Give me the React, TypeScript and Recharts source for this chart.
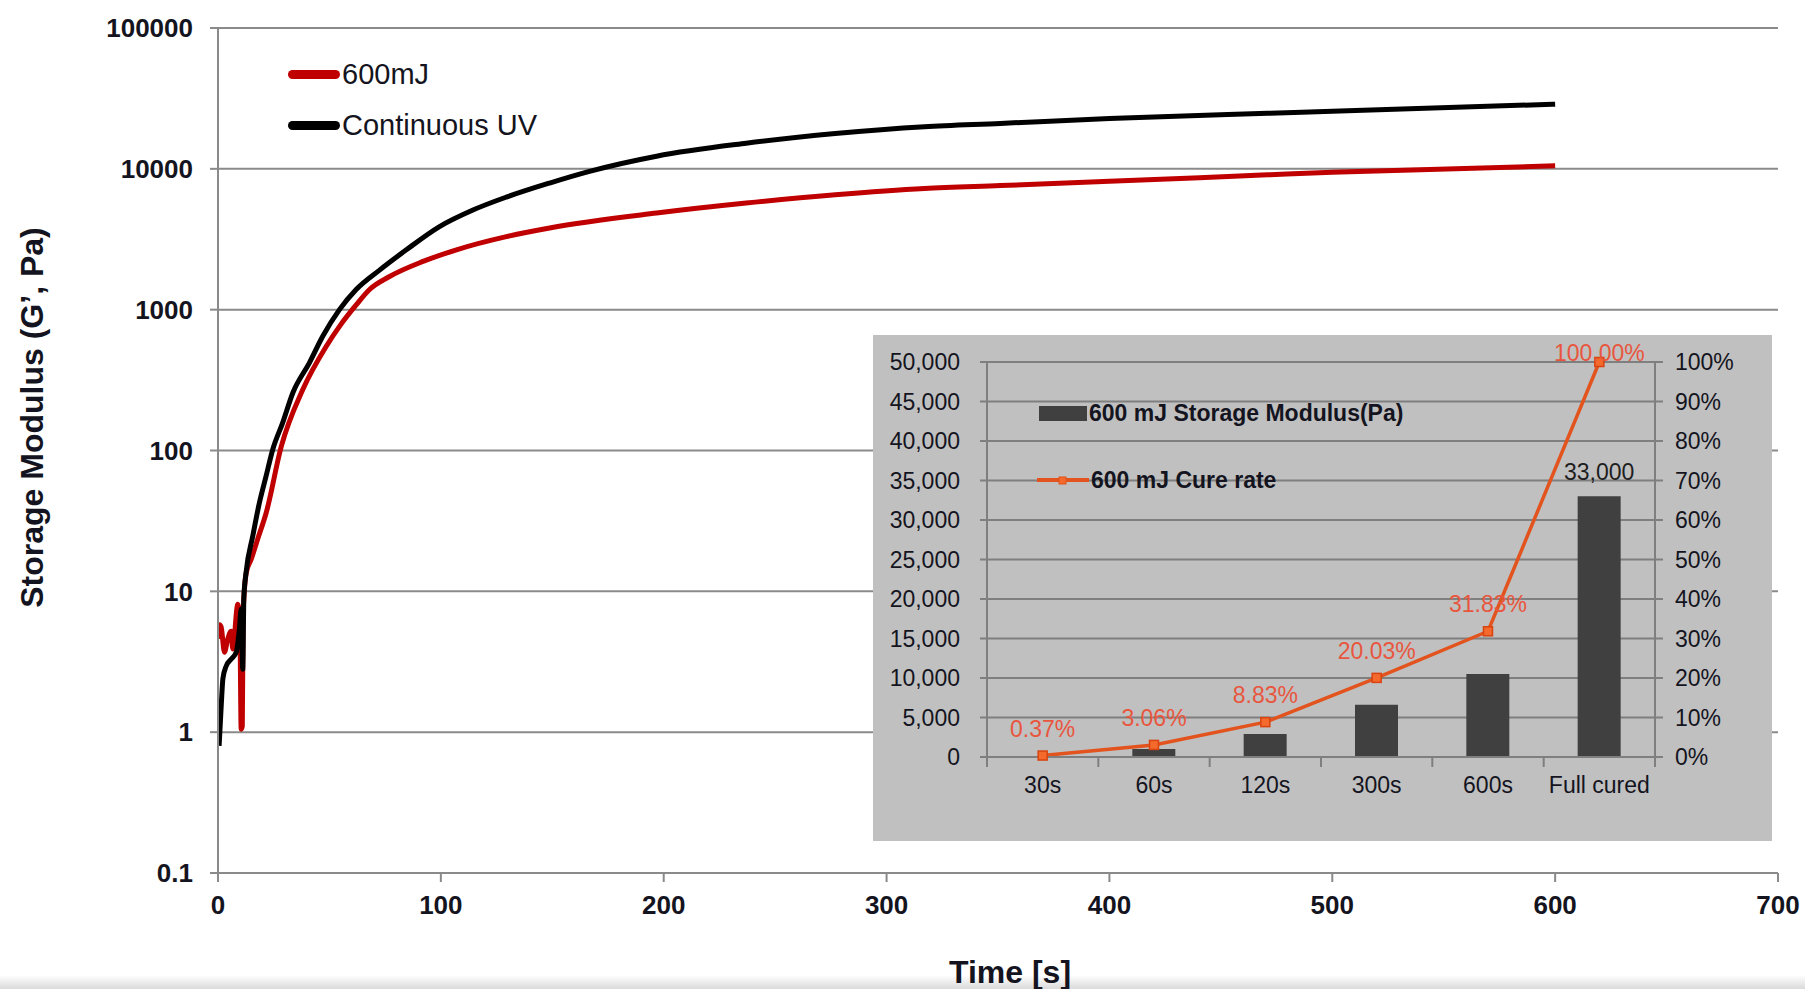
import React from "react";
import {
  LineChart,
  Line,
  XAxis,
  YAxis,
  CartesianGrid,
  Legend,
  Label,
  ComposedChart,
  Bar,
  LabelList,
} from "recharts";

// ---- main chart: G' vs time, log scale ----
const timeTicks = [0, 100, 200, 300, 400, 500, 600, 700];
const logTicks = [0.1, 1, 10, 100, 1000, 10000, 100000];

const uvTime = [
  0.5, 1.5, 2.2, 3.7, 5.9, 8.2, 9.6, 10.4, 11.1, 11.6, 12.6, 15.6, 18.6, 21.6,
  24.6, 29, 33.6, 41, 47, 54.5, 62, 72.5, 84.5, 99.4, 114.4, 129.4, 148.8,
  166.7, 196.8, 237, 277, 317, 351, 400, 471, 500, 600,
];
const uvModulus = [
  0.8, 1.6, 2.4, 2.95, 3.3, 3.7, 5.4, 7.5, 2.8, 9, 13.6, 24.7, 42.7, 66, 102,
  157, 257, 419, 647, 1000, 1390, 1910, 2660, 3890, 5100, 6300, 7930, 9600,
  12300, 15200, 17800, 19900, 21000, 22800, 24800, 25600, 28800,
];

const mjTime = [
  0, 0.7, 1.4, 2.9, 4.4, 5.9, 6.6, 8.9, 9.8, 10.4, 10.9, 11.3, 12.7, 14.9, 18,
  21.6, 28.4, 38, 48.6, 55, 62, 68, 77, 92, 107, 129.4, 148.8, 196.8, 237,
  277, 317, 351, 400, 471, 500, 600,
];
const mjModulus = [
  4.6, 5.8, 5.6, 3.7, 4.6, 5.2, 3.9, 8.1, 6, 1.05, 1.1, 7.1, 13.6, 16.9, 24,
  36, 107, 270, 550, 780, 1080, 1390, 1720, 2200, 2660, 3300, 3800, 4850, 5710,
  6540, 7250, 7600, 8150, 9060, 9450, 10500,
];

// ---- inset: 600 mJ modulus + cure rate ----
const stages = ["30s", "60s", "120s", "300s", "600s", "Full cured"];
const stageModulus = [122, 1010, 2914, 6610, 10504, 33000];
const cureRate = [0.37, 3.06, 8.83, 20.03, 31.83, 100];
const modulusTicks = [0, 5000, 10000, 15000, 20000, 25000, 30000, 35000, 40000, 45000, 50000];
const percentTicks = [0, 10, 20, 30, 40, 50, 60, 70, 80, 90, 100];

const uvData = uvTime.map((t, i) => ({ t, g: uvModulus[i] }));
const mjData = mjTime.map((t, i) => ({ t, g: mjModulus[i] }));
const insetData = stages.map((s, i) => ({
  pos: i + 0.5,
  stage: s,
  modulus: stageModulus[i],
  cure: cureRate[i],
}));
// boundaries (tick marks) and centres (labels) on the category axis
const stageTicks = stages.flatMap((_, i) => [i, i + 0.5]).concat(stages.length);

const FONT = '"Liberation Sans", Arial, sans-serif';
const GRID = "#8a8a8a";
const INSET_GRID = "#7f7f7f";
const TEXT = "#141420";
const LINE_ORANGE = "#e2531d";
const LABEL_RED = "#e8563e";

const MainLegend = ({ payload }: any) => (
  <div style={{ fontSize: 29, color: TEXT, fontFamily: FONT }}>
    {(payload || []).map((p: any, i: number) => (
      <div
        key={i}
        style={{ display: "flex", alignItems: "center", height: 34, marginBottom: 17 }}
      >
        <span
          style={{
            display: "inline-block",
            width: 52,
            height: 9,
            borderRadius: 5,
            background: p.color,
          }}
        />
        <span style={{ marginLeft: 2 }}>{p.value}</span>
      </div>
    ))}
  </div>
);

// bar entry first, then the line, as in the original
const InsetLegend = ({ payload }: any) => {
  const items = [...(payload || [])].sort(
    (a: any, b: any) => (a.type === "rect" ? 0 : 1) - (b.type === "rect" ? 0 : 1)
  );
  return (
    <div style={{ fontSize: 23, fontWeight: 700, color: TEXT, fontFamily: FONT }}>
      {items.map((p: any, i: number) => (
        <div
          key={i}
          style={{ display: "flex", alignItems: "center", height: 30, marginBottom: 37 }}
        >
          {p.type === "rect" ? (
            <span
              style={{ display: "inline-block", width: 48, height: 15, marginLeft: 2, background: p.color }}
            />
          ) : (
            <svg width={52} height={12}>
              <line x1={0} x2={52} y1={6} y2={6} stroke={p.color} strokeWidth={4} />
              <rect x={22} y={3} width={7} height={7} fill="#f36a2c" stroke={p.color} strokeWidth={1} />
            </svg>
          )}
          <span style={{ marginLeft: 2 }}>{p.value}</span>
        </div>
      ))}
    </div>
  );
};

const StageTick = (props: any) => {
  const { x, y, payload } = props;
  const v = payload.value;
  if (Number.isInteger(v)) {
    return <line x1={x} x2={x} y1={y - 10} y2={y} stroke={INSET_GRID} strokeWidth={2} />;
  }
  return (
    <text
      x={x}
      y={y + 10}
      dy="0.71em"
      textAnchor="middle"
      fontSize={23}
      fill={TEXT}
      fontFamily={FONT}
    >
      {stages[Math.floor(v)]}
    </text>
  );
};

const SquareDot = (props: any) => {
  const { cx, cy } = props;
  if (cx == null || cy == null) return null;
  return <rect x={cx - 4.5} y={cy - 4.5} width={9} height={9} fill="#f36a2c" stroke="#d9430f" strokeWidth={1.5} />;
};

const CureLabel = (props: any) => {
  const { x, y, value, index } = props;
  const dy = index === cureRate.length - 1 ? 9 : 27;
  return (
    <text
      x={x}
      y={y - dy}
      textAnchor="middle"
      dominantBaseline="central"
      fontSize={23}
      fill={LABEL_RED}
      fontFamily={FONT}
    >
      {Number(value).toFixed(2)}%
    </text>
  );
};

const BarTopLabel = (props: any) => {
  const { x, y, width, value, index } = props;
  if (index !== stages.length - 1) return null;
  return (
    <text
      x={x + width / 2}
      y={y - 24}
      textAnchor="middle"
      dominantBaseline="central"
      fontSize={23}
      fill="#1e1e1e"
      fontFamily={FONT}
    >
      {Number(value).toLocaleString("en-US")}
    </text>
  );
};

const YTitle = ({ viewBox }: any) => {
  const cx = viewBox.x + 14;
  const cy = viewBox.y + viewBox.height / 2 - 33;
  return (
    <text
      x={cx}
      y={cy}
      transform={`rotate(-90 ${cx} ${cy})`}
      textAnchor="middle"
      dominantBaseline="central"
      fontSize={32}
      fontWeight={700}
      fill={TEXT}
      fontFamily={FONT}
    >
      Storage Modulus (G’, Pa)
    </text>
  );
};

const XTitle = ({ viewBox }: any) => (
  <text
    x={viewBox.x + viewBox.width / 2 + 12}
    y={viewBox.y + viewBox.height - 6}
    textAnchor="middle"
    fontSize={32}
    fontWeight={700}
    fill={TEXT}
    fontFamily={FONT}
  >
    Time [s]
  </text>
);

export default function App() {
  return (
    <div
      style={{
        position: "absolute",
        left: 0,
        top: 0,
        width: 1805,
        height: 989,
        background: "#fff",
        fontFamily: FONT,
        overflow: "hidden",
      }}
    >
      <div
        style={{
          position: "absolute",
          left: 0,
          top: 975,
          width: 1805,
          height: 14,
          background: "linear-gradient(to bottom, rgba(255,255,255,0), #dadada)",
        }}
      />
      <div style={{ position: "absolute", left: 0, top: 0 }}>
        <LineChart width={1805} height={989} margin={{ top: 28, right: 27, bottom: 0, left: 18 }}>
          <CartesianGrid vertical={false} stroke={GRID} strokeWidth={2} />
          <XAxis
            dataKey="t"
            type="number"
            domain={[0, 700]}
            ticks={timeTicks}
            interval={0}
            height={116}
            allowDataOverflow
            tickSize={9}
            tickMargin={14}
            stroke={GRID}
            strokeWidth={2}
            tick={{ fontSize: 26, fontWeight: 700, fill: TEXT }}
          >
            <Label content={<XTitle />} />
          </XAxis>
          <YAxis
            dataKey="g"
            type="number"
            scale="log"
            domain={[0.1, 100000]}
            ticks={logTicks}
            interval={0}
            allowDataOverflow
            width={200}
            tickSize={8}
            tickMargin={17}
            stroke={GRID}
            strokeWidth={2}
            tick={{ fontSize: 26, fontWeight: 700, fill: TEXT }}
          >
            <Label content={<YTitle />} />
          </YAxis>
          <Legend
            layout="vertical"
            align="center"
            verticalAlign="middle"
            wrapperStyle={{ left: 288, top: 57, width: 300 }}
            content={<MainLegend />}
          />
          <Line
            data={mjData}
            dataKey="g"
            name="600mJ"
            type="monotone"
            stroke="#c00000"
            strokeWidth={5}
            dot={false}
            isAnimationActive={false}
          />
          <Line
            data={uvData}
            dataKey="g"
            name="Continuous UV"
            type="monotone"
            stroke="#000000"
            strokeWidth={5}
            dot={false}
            isAnimationActive={false}
          />
        </LineChart>
      </div>

      <div
        style={{
          position: "absolute",
          left: 873,
          top: 335,
          width: 899,
          height: 506,
          background: "#c0c0c0",
        }}
      >
        <ComposedChart
          width={899}
          height={506}
          data={insetData}
          margin={{ top: 27, right: 17, bottom: 34, left: 14 }}
        >
          <CartesianGrid vertical={false} stroke={INSET_GRID} strokeWidth={2} />
          <XAxis
            dataKey="pos"
            type="number"
            domain={[0, stages.length]}
            ticks={stageTicks}
            interval={0}
            height={50}
            tickSize={10}
            tickMargin={0}
            tickLine={false}
            stroke={INSET_GRID}
            strokeWidth={2}
            tick={<StageTick />}
          />
          <YAxis
            domain={[0, 50000]}
            ticks={modulusTicks}
            interval={0}
            width={100}
            tickSize={7}
            tickMargin={20}
            stroke={INSET_GRID}
            strokeWidth={2}
            tickFormatter={(v: number) => v.toLocaleString("en-US")}
            tick={{ fontSize: 23, fill: TEXT }}
          />
          <YAxis
            yAxisId="right"
            orientation="right"
            domain={[0, 100]}
            ticks={percentTicks}
            interval={0}
            width={100}
            tickSize={8}
            tickMargin={12}
            stroke={INSET_GRID}
            strokeWidth={2}
            tickFormatter={(v: number) => `${v}%`}
            tick={{ fontSize: 23, fill: TEXT }}
          />
          <Legend
            layout="vertical"
            align="center"
            verticalAlign="middle"
            wrapperStyle={{ left: 164, top: 63, width: 420 }}
            content={<InsetLegend />}
          />
          <Bar
            dataKey="modulus"
            name="600 mJ Storage Modulus(Pa)"
            fill="#404040"
            barSize={43}
            isAnimationActive={false}
          >
            <LabelList dataKey="modulus" content={<BarTopLabel />} />
          </Bar>
          <Line
            yAxisId="right"
            dataKey="cure"
            name="600 mJ Cure rate"
            stroke={LINE_ORANGE}
            strokeWidth={3.5}
            dot={<SquareDot />}
            activeDot={false}
            isAnimationActive={false}
          >
            <LabelList dataKey="cure" content={<CureLabel />} />
          </Line>
        </ComposedChart>
      </div>
    </div>
  );
}
